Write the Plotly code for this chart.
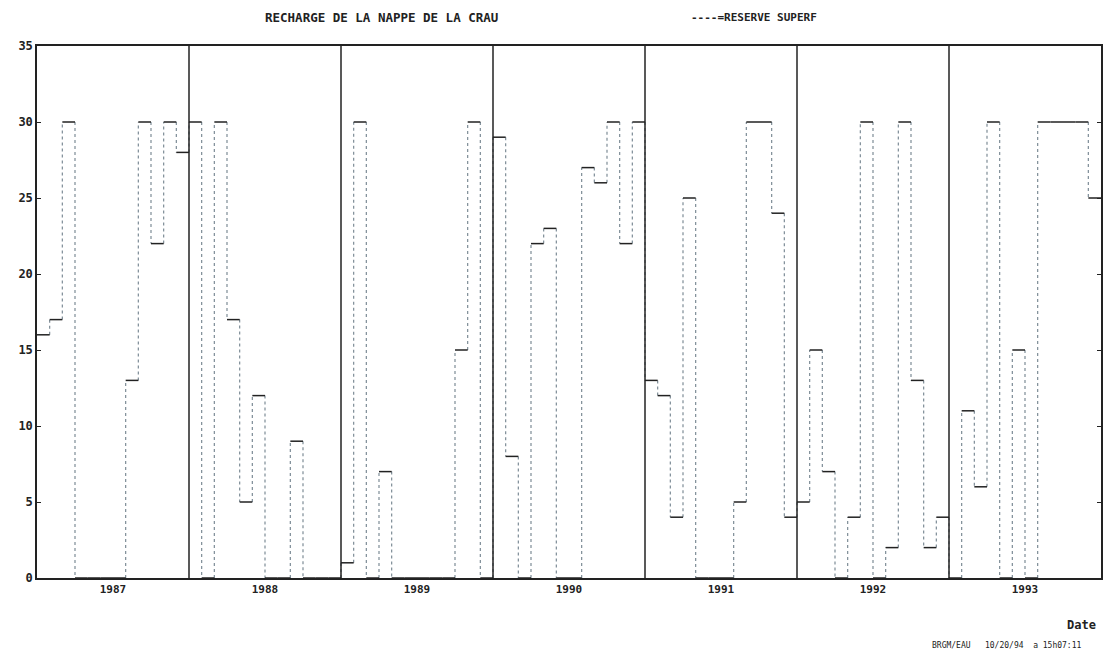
import plotly.graph_objects as go

# Monthly values (one list per year)
years = [1987, 1988, 1989, 1990, 1991, 1992, 1993]
v1987 = [16, 17, 30, 0, 0, 0, 0, 13, 30, 22, 30, 28]
v1988 = [30, 0, 30, 17, 5, 12, 0, 0, 9, 0, 0, 0]
v1989 = [1, 30, 0, 7, 0, 0, 0, 0, 0, 15, 30, 0]
v1990 = [29, 8, 0, 22, 23, 0, 0, 27, 26, 30, 22, 30]
v1991 = [13, 12, 4, 25, 0, 0, 0, 5, 30, 30, 24, 4]
v1992 = [5, 15, 7, 0, 4, 30, 0, 2, 30, 13, 2, 4]
v1993 = [0, 11, 6, 30, 0, 15, 0, 30, 30, 30, 30, 25]
year_labels = ["1987", "1988", "1989", "1990", "1991", "1992", "1993"]
y_ticks = [0, 5, 10, 15, 20, 25, 30, 35]

values = v1987 + v1988 + v1989 + v1990 + v1991 + v1992 + v1993
x0 = years[0]
xs = [x0 + i / 12 for i in range(len(values) + 1)]

# horizontal segments (solid) and vertical risers (dotted)
hx, hy, vx, vy = [], [], [], []
for i, v in enumerate(values):
    hx += [xs[i], xs[i + 1], None]
    hy += [v, v, None]
    if i + 1 < len(values):
        vx += [xs[i + 1], xs[i + 1], None]
        vy += [v, values[i + 1], None]

fig = go.Figure()
fig.add_trace(go.Scatter(x=vx, y=vy, mode="lines",
                         line=dict(color="#7d8c96", width=1.2, dash="dot"),
                         hoverinfo="skip", showlegend=False))
fig.add_trace(go.Scatter(x=hx, y=hy, mode="lines",
                         line=dict(color="#222222", width=1.5),
                         showlegend=False))

# year separator lines
sx, sy = [], []
for yr in years[1:]:
    sx += [yr, yr, None]
    sy += [0, 35, None]
fig.add_trace(go.Scatter(x=sx, y=sy, mode="lines",
                         line=dict(color="#222222", width=1.5),
                         hoverinfo="skip", showlegend=False))

FONT = "DejaVu Sans Mono"
L, R, T, B = 37, 6, 46, 74
W, H = 1109, 652
pw, ph = W - L - R, H - T - B

def px(x):
    return (x - L) / pw

def py(y):
    return (H - B - y) / ph

fig.update_layout(
    width=W, height=H,
    margin=dict(l=L, r=R, t=T, b=B),
    paper_bgcolor="white", plot_bgcolor="white",
    font=dict(family=FONT, color="#222222", size=11),
    xaxis=dict(range=[years[0], years[-1] + 1],
               tickvals=[y + 0.5 for y in years], ticktext=year_labels,
               ticks="", showgrid=False, zeroline=False,
               showline=True, linecolor="#222222", linewidth=1.5, mirror=True,
               tickfont=dict(family=FONT, size=11, weight="bold")),
    yaxis=dict(range=[0, 35], tickvals=y_ticks,
               ticks="inside", ticklen=4, tickcolor="#222222",
               showgrid=False, zeroline=False,
               showline=True, linecolor="#222222", linewidth=1.5, mirror="ticks",
               tickfont=dict(family=FONT, size=12, weight="bold")),
    annotations=[
        dict(text="RECHARGE DE LA NAPPE DE LA CRAU", x=px(382), y=py(17),
             xanchor="center", yanchor="middle",
             xref="paper", yref="paper", showarrow=False,
             font=dict(family=FONT, size=12.5, weight="bold")),
        dict(text="----=RESERVE SUPERF", x=px(755), y=py(17),
             xanchor="center", yanchor="middle",
             xref="paper", yref="paper", showarrow=False,
             font=dict(family=FONT, size=11, weight="bold")),
        dict(text="Date", x=px(1100), y=py(625), xanchor="right", yanchor="middle",
             xref="paper", yref="paper", showarrow=False,
             font=dict(family=FONT, size=12, weight="bold")),
        dict(text="BRGM/EAU   10/20/94  a 15h07:11", x=px(1085), y=py(645),
             xanchor="right", yanchor="middle", xref="paper", yref="paper",
             showarrow=False, font=dict(family=FONT, size=8)),
    ],
)

fig.write_html("out.html")
